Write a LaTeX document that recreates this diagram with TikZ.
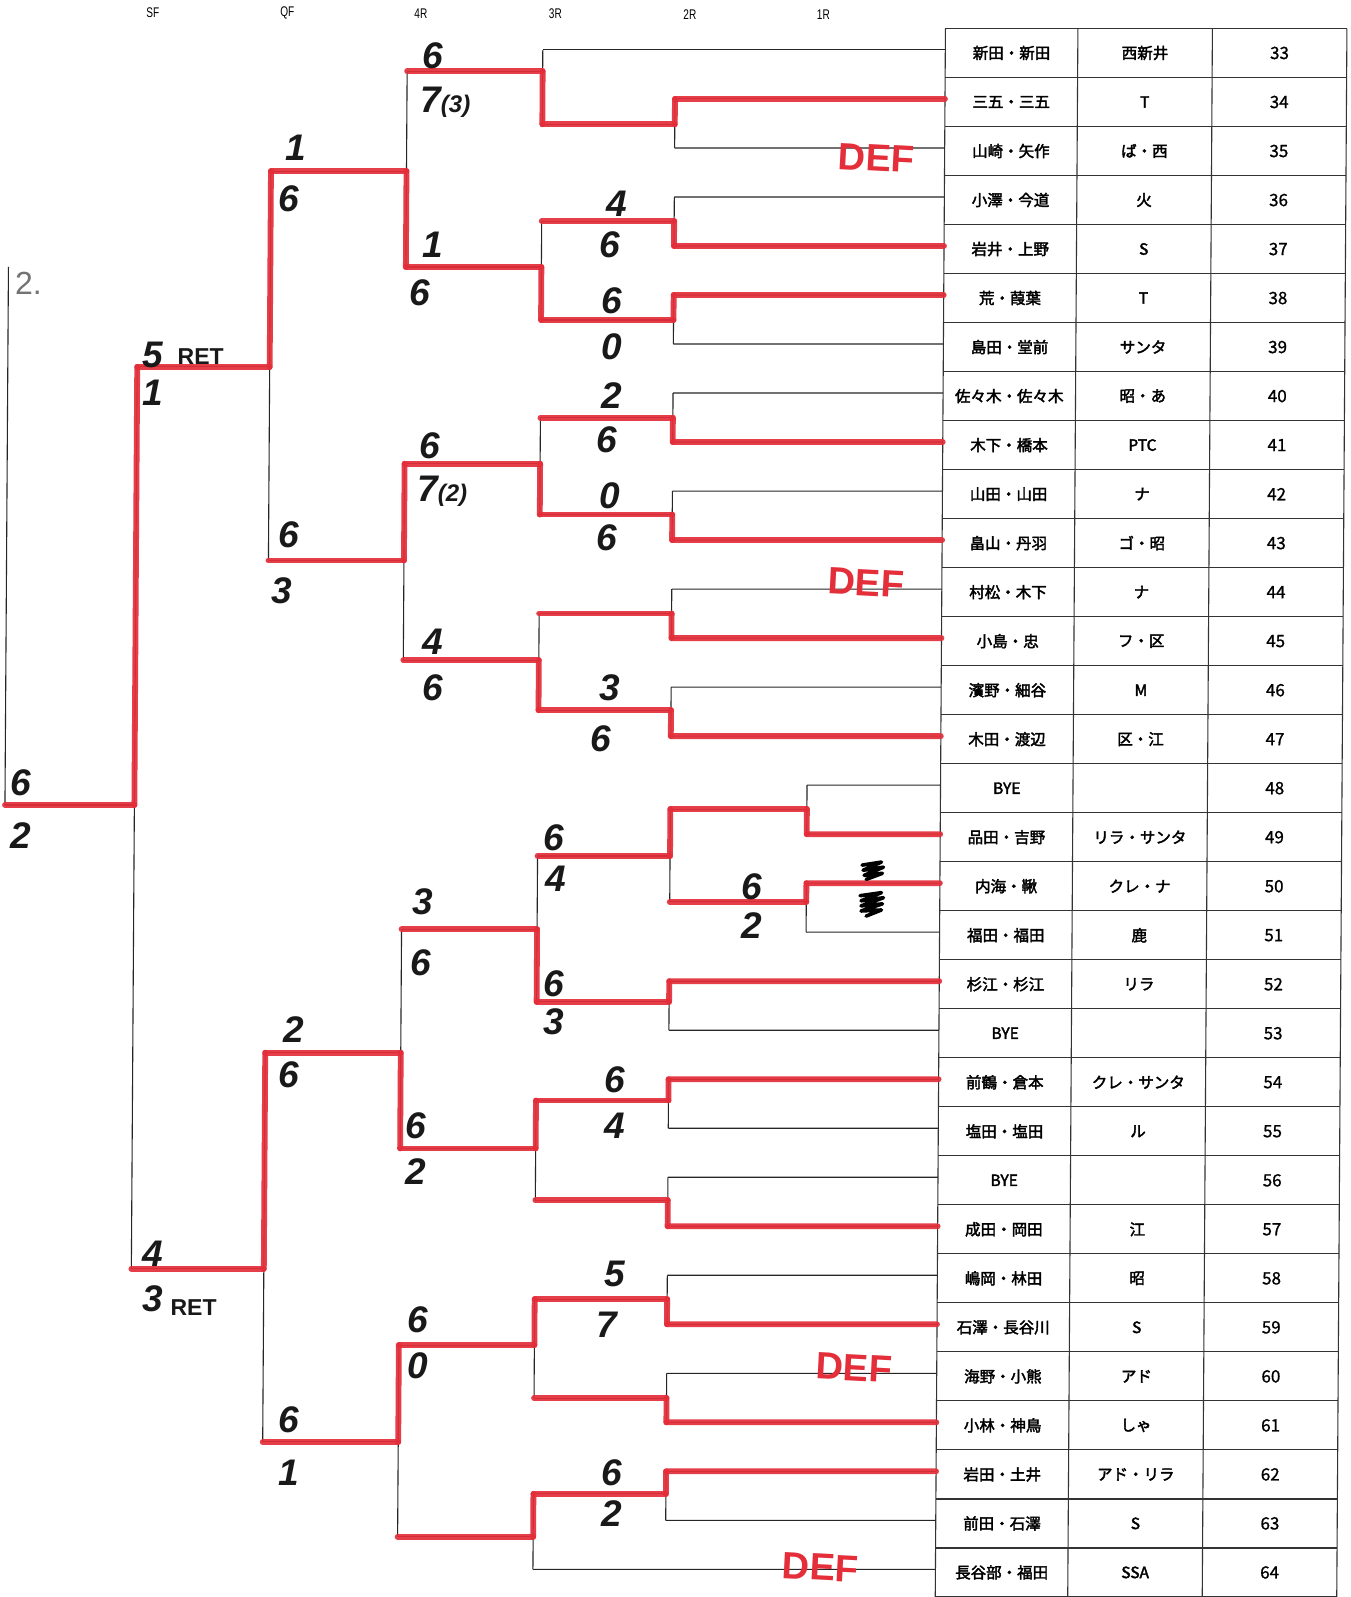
\documentclass[tikz,border=0pt]{standalone}
\usepackage{fontspec}
\setmainfont{Liberation Sans}
\newfontfamily\jp{Noto Sans CJK JP}[FakeBold=2.4]
\newfontfamily\jpn{Noto Sans CJK JP}[FakeBold=1]
\newfontfamily\hand{Liberation Sans}
\definecolor{redm}{RGB}{228,46,58}
\newcommand\hwsm{\fontsize{24}{24}\selectfont}
\tikzset{
  thinl/.style={line width=1.1pt, draw=black!85},
  tabl/.style={line width=1.1pt, draw=black!80},
  redl/.style={line width=5.8pt, draw=redm, line cap=round, line join=round, opacity=0.92},
  hw/.style={font=\hand\bfseries\itshape\fontsize{37}{37}\selectfont, text=black!90, inner sep=0pt},
  hwr/.style={font=\hand\bfseries\fontsize{23}{23}\selectfont, text=black!90, inner sep=0pt},
  deft/.style={font=\hand\bfseries\fontsize{38}{38}\selectfont, text=redm, inner sep=0pt, rotate=-3},
  cell/.style={font=\jp\fontsize{15.5}{15.5}\selectfont, inner sep=0pt},
  numc/.style={font=\jpn\fontsize{17}{17}\selectfont, inner sep=0pt},
  hdr/.style={font=\fontsize{14}{14}\selectfont, inner sep=0pt},
  scrib/.style={line width=3.6pt, draw=black, line cap=round, line join=round}
}
\begin{document}
\begin{tikzpicture}
\path[fill=white, use as bounding box] (0,0) rectangle (1350pt,-1597pt);
\begin{scope}[x=1.019pt, y=-1.019pt, xslant=0.0065]
  % table grid
  \foreach \i in {0,...,32} \draw[tabl] (928,{28+48.1*\i}) -- (1322,{28+48.1*\i});
  \foreach \xx in {928,1058,1190,1322} \draw[tabl] (\xx,28) -- (\xx,{28+48.1*32});
  % table text
  \foreach \k/\a/\b in {33/新田・新田/西新井, 34/三五・三五/T, 35/山崎・矢作/ば・西,
    36/小澤・今道/火, 37/岩井・上野/S, 38/荒・葭葉/T, 39/島田・堂前/サンタ,
    40/佐々木・佐々木/昭・あ, 41/木下・橋本/PTC, 42/山田・山田/ナ, 43/畠山・丹羽/ゴ・昭,
    44/村松・木下/ナ, 45/小島・忠/フ・区, 46/濱野・細谷/M, 47/木田・渡辺/区・江,
    48/BYE/{}, 49/品田・吉野/リラ・サンタ, 50/内海・鞦/クレ・ナ, 51/福田・福田/鹿,
    52/杉江・杉江/リラ, 53/BYE/{}, 54/前鶴・倉本/クレ・サンタ, 55/塩田・塩田/ル,
    56/BYE/{}, 57/成田・岡田/江, 58/嶋岡・林田/昭, 59/石澤・長谷川/S, 60/海野・小熊/アド,
    61/小林・神鳥/しゃ, 62/岩田・土井/アド・リラ, 63/前田・石澤/S, 64/長谷部・福田/SSA}
  {
    \node[cell] (nm\k) at (993,{52+48.1*(\k-33)}) {\a};
    \node[cell] (tm\k) at (1124,{52+48.1*(\k-33)}) {\b};
    \node[numc] (no\k) at (1256,{52+48.1*(\k-33)}) {\k};
  }
  % entry points at table edge
  \foreach \k in {33,...,64} \coordinate (e\k) at (928,{49+48.1*(\k-33)});
  % match junctions
  \foreach \n/\x/\t/\b/\o in {
    A1/797/770.5/818.6/794, A2/797/866.7/914.8/885,
    B1/663/97.1/145.2/122, B2/663/193.3/241.4/217, B3/663/289.5/337.6/314,
    B4/663/385.7/433.8/410, B5/663/481.9/530/505, B6/663/578.1/626.2/602,
    B7/663/674.3/722.4/697, B8/663/794/885/840, B9/663/962.9/1011/983,
    B10/663/1059.1/1107.2/1080, B11/663/1155.3/1203.4/1178, B12/663/1251.5/1299.6/1275,
    B13/663/1347.7/1395.8/1372, B14/663/1443.9/1492/1466,
    C1/533/49/122/70, C2/533/217/314/262, C3/533/410/505/455, C4/533/602/697/648,
    C5/533/840/983/912, C6/533/1080/1178/1127, C7/533/1275/1372/1320, C8/533/1466/1540.1/1508,
    D1/400/70/262/168, D2/400/455/648/550, D3/400/912/1127/1033, D4/400/1320/1508/1415,
    Q1/267/168/550/360, Q2/267/1033/1415/1245,
    S/137/360/1245/790}
  {
    \coordinate (\n-t) at (\x,\t);
    \coordinate (\n-b) at (\x,\b);
    \coordinate (\n-o) at (\x,\o);
  }
  \coordinate (F-t) at (10,262);
  \coordinate (F-b) at (10,790);
  % thin verticals
  \foreach \n in {A1,A2,B1,B2,B3,B4,B5,B6,B7,B8,B9,B10,B11,B12,B13,B14,C1,C2,C3,C4,C5,C6,C7,C8,D1,D2,D3,D4,Q1,Q2,S,F}
    \draw[thinl] (\n-t) -- (\n-b);
  % thin entry lines
  \foreach \k/\m in {33/C1-t,34/B1-t,35/B1-b,36/B2-t,37/B2-b,38/B3-t,39/B3-b,40/B4-t,41/B4-b,
    42/B5-t,43/B5-b,44/B6-t,45/B6-b,46/B7-t,47/B7-b,48/A1-t,49/A1-b,50/A2-t,51/A2-b,
    52/B9-t,53/B9-b,54/B10-t,55/B10-b,56/B11-t,57/B11-b,58/B12-t,59/B12-b,60/B13-t,61/B13-b,
    62/B14-t,63/B14-b,64/C8-b}
    \draw[thinl] (e\k) -- (\m);
  % output lines
  \foreach \a/\b in {A1-o/B8-t,A2-o/B8-b,B1-o/C1-b,B2-o/C2-t,B3-o/C2-b,B4-o/C3-t,B5-o/C3-b,
    B6-o/C4-t,B7-o/C4-b,B8-o/C5-t,B9-o/C5-b,B10-o/C6-t,B11-o/C6-b,B12-o/C7-t,B13-o/C7-b,
    B14-o/C8-t,C1-o/D1-t,C2-o/D1-b,C3-o/D2-t,C4-o/D2-b,C5-o/D3-t,C6-o/D3-b,C7-o/D4-t,C8-o/D4-b,
    D1-o/Q1-t,D2-o/Q1-b,D3-o/Q2-t,D4-o/Q2-b,Q1-o/S-t,Q2-o/S-b,S-o/F-b}
  {
    \draw[thinl] (\a) -- (\b);
    \draw[redl] (\a) -- (\b);
  }
  % red entry lines
  \foreach \k/\m in {34/B1-t,37/B2-b,38/B3-t,41/B4-b,43/B5-b,45/B6-b,47/B7-b,49/A1-b,50/A2-t,
    52/B9-t,54/B10-t,57/B11-b,59/B12-b,61/B13-b,62/B14-t}
    \draw[redl] (e\k) -- (\m);
  % red half verticals
  \foreach \n/\s in {A1/b,A2/t,B1/t,B2/b,B3/t,B4/b,B5/b,B6/b,B7/b,B8/t,B9/t,B10/t,B11/b,B12/b,
    B13/b,B14/t,C1/b,C2/b,C3/b,C4/b,C5/b,C6/t,C7/t,C8/t,D1/b,D2/t,D3/b,D4/t,Q1/t,Q2/t,S/t}
    \draw[redl] (\n-o) -- (\n-\s);
\end{scope}
\begin{scope}[x=1.019pt, y=-1.019pt]
  % headers
  \foreach \xx/\yy/\t in {150/12/SF, 282/13/QF, 413/13/4R, 545/13/3R, 677/14/2R, 808/14/1R}
    \node[hdr] (h\t) at (\xx,\yy) {\scalebox{0.72}[1]{\t}};
  % handwritten scores
  \foreach \xx/\yy/\t [count=\i] in {425/55/6, 437/100/{7\hwsm(3)}, 290/145/1, 283/195/6,
    425/240/1, 412/287/6, 605/200/4, 598/240/6, 600/295/6, 600/340/0,
    150/348/5, 150/385/1, 600/388/2, 595/432/6, 422/437/6, 434/482/{7\hwsm(2)},
    598/487/0, 595/528/6, 283/525/6, 277/580/3, 425/630/4, 425/675/6, 598/675/3, 590/725/6,
    20/768/6, 20/820/2, 543/822/6, 545/862/4, 738/870/6, 738/908/2, 415/885/3, 413/945/6,
    543/965/6, 543/1003/3, 288/1010/2, 283/1055/6, 603/1060/6, 603/1105/4, 408/1105/6, 408/1150/2,
    150/1230/4, 150/1275/3, 603/1250/5, 595/1300/7, 410/1295/6, 410/1340/0,
    283/1393/6, 283/1445/1, 600/1445/6, 600/1485/2}
    \node[hw] (sc\i) at (\xx,\yy) {\t};
  \node[hwr] (ret1) at (197,350) {RET};
  \node[hwr] (ret2) at (190,1283) {RET};
  % DEF marks
  \node[deft] (def1) at (860,155) {DEF};
  \node[deft] (def2) at (850,572) {DEF};
  \node[deft] (def3) at (838,1342) {DEF};
  \node[deft] (def4) at (805,1538) {DEF};
  % pencil note
  \node[font=\hand\fontsize{32}{32}\selectfont, text=black!55, inner sep=0pt] (note) at (28,278) {2.};
  % crossed-out scores
  \draw[scrib] (846,849) -- (865,846) -- (847,854) -- (867,851) -- (848,859) -- (866,857) -- (850,863);
  \draw[scrib] (844,879) -- (865,876) -- (845,884) -- (867,881) -- (845,889) -- (866,887) -- (845,894) -- (865,893) -- (850,899);
\end{scope}
\end{tikzpicture}
\end{document}
